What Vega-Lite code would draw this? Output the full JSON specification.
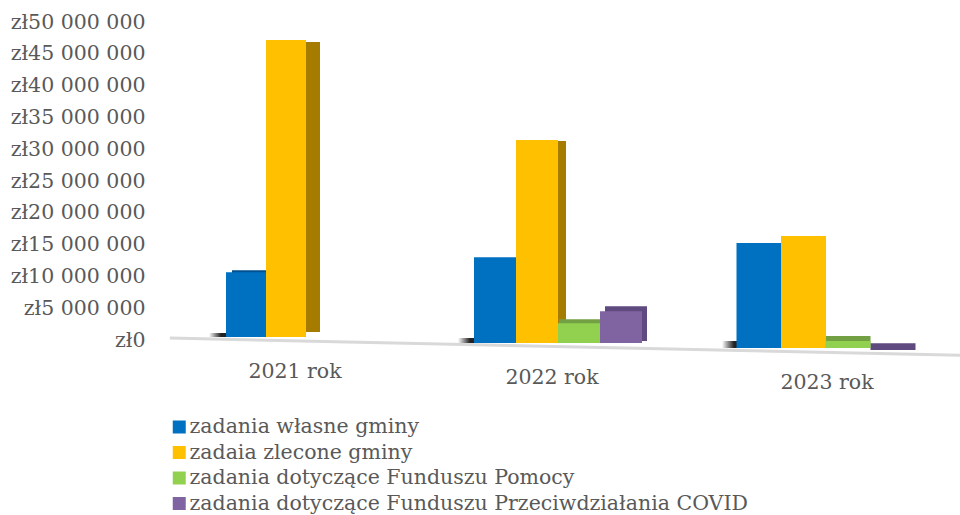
{
"$schema":"https://vega.github.io/schema/vega-lite/v6.json",
"width":960,"height":515,"padding":0,"autosize":{"type":"none"},
"background":"white",
"config":{"view":{"stroke":null},"font":"DejaVu Serif"},
"params":[{"name":"serie","value":["zadania własne gminy","zadaia zlecone gminy","zadania dotyczące Funduszu Pomocy","zadania dotyczące Funduszu Przeciwdziałania COVID"]}],
"datasets":{
"bars":[
{"rok":2021,"seria":"zadania własne gminy","kwota":10200000},
{"rok":2021,"seria":"zadaia zlecone gminy","kwota":46700000},
{"rok":2022,"seria":"zadania własne gminy","kwota":13500000},
{"rok":2022,"seria":"zadaia zlecone gminy","kwota":31900000},
{"rok":2022,"seria":"zadania dotyczące Funduszu Pomocy","kwota":3100000},
{"rok":2022,"seria":"zadania dotyczące Funduszu Przeciwdziałania COVID","kwota":5000000},
{"rok":2023,"seria":"zadania własne gminy","kwota":16500000},
{"rok":2023,"seria":"zadaia zlecone gminy","kwota":17600000},
{"rok":2023,"seria":"zadania dotyczące Funduszu Pomocy","kwota":1100000},
{"rok":2023,"seria":"zadania dotyczące Funduszu Przeciwdziałania COVID","kwota":100000}
],
"floor":[{"rok":2020.48,"kwota":300000},{"rok":2023.52,"kwota":-2400000}],
"lata":[{"rok":2021,"etykieta":"2021 rok","kwota":0},{"rok":2022,"etykieta":"2022 rok","kwota":0},{"rok":2023,"etykieta":"2023 rok","kwota":0}]
},
"data":{"name":"bars"},
"encoding":{
"x":{"field":"rok","type":"quantitative","title":null,
"scale":{"type":"linear","domain":[2020.5,2021,2022,2023,2023.5],"range":[170,295,552,827,960],"nice":false,"zero":false},
"axis":null},
"y":{"field":"kwota","type":"quantitative","title":null,
"scale":{"domain":[0,50000000],"range":[340,22],"nice":false,"zero":false},
"axis":{"values":[0,5000000,10000000,15000000,20000000,25000000,30000000,35000000,40000000,45000000,50000000],"offset":-145,"ticks":false,"domain":false,"grid":false,"labelPadding":0,"labelFontSize":20.5,"labelColor":"#595959","labelFont":"DejaVu Serif",
"labelExpr":"'zł'+replace(format(datum.value,',d'),/,/g,' ')"}},
"y2":{"datum":0}
},
"layer":[
{"data":{"name":"floor"},"mark":{"type":"line","color":"#d9d9d9","strokeWidth":3},"encoding":{"y2":null}},
{"data":{"name":"lata"},"mark":{"type":"text","font":"DejaVu Serif","fontSize":20.5,"color":"#595959","baseline":"middle","align":"center","dy":{"expr":"datum.rok===2021?32:datum.rok===2022?38:43"}},
"encoding":{"y2":null,"text":{"field":"etykieta","type":"nominal"}}},

{"transform":[{"filter":"datum.rok===2021 && datum.seria==='zadania własne gminy'"}],
"mark":{"type":"bar","width":40,"xOffset":-66,"yOffset":-7,"y2Offset":-3,"color":{"gradient":"linear","x1":0,"x2":1,"y1":0,"y2":0,"stops":[{"offset":0,"color":"#ffffff"},{"offset":0.3,"color":"#222222"}]}},
"encoding":{"y":{"datum":0}}},
{"transform":[{"filter":"datum.rok===2022 && datum.seria==='zadania własne gminy'"}],
"mark":{"type":"bar","width":40,"xOffset":-74,"yOffset":-2,"y2Offset":3,"color":{"gradient":"linear","x1":0,"x2":1,"y1":0,"y2":0,"stops":[{"offset":0,"color":"#ffffff"},{"offset":0.3,"color":"#222222"}]}},
"encoding":{"y":{"datum":0}}},
{"transform":[{"filter":"datum.rok===2023 && datum.seria==='zadania własne gminy'"}],
"mark":{"type":"bar","width":40,"xOffset":-85,"yOffset":1,"y2Offset":8,"color":{"gradient":"linear","x1":0,"x2":1,"y1":0,"y2":0,"stops":[{"offset":0,"color":"#ffffff"},{"offset":0.3,"color":"#222222"}]}},
"encoding":{"y":{"datum":0}}},

{"transform":[{"filter":"datum.rok===2021 && datum.seria==='zadania własne gminy'"}],
"mark":{"type":"bar","width":40,"color":"#01508f","xOffset":-43,"yOffset":-5,"y2Offset":-3}},
{"transform":[{"filter":"datum.rok===2021 && datum.seria==='zadaia zlecone gminy'"}],
"mark":{"type":"bar","width":40,"color":"#a67c00","xOffset":5,"yOffset":-1,"y2Offset":-8}},
{"transform":[{"filter":"datum.rok===2021"}],
"mark":{"type":"bar","width":40,"yOffset":-3,"y2Offset":-3,"xOffset":{"expr":"-49+40*indexof(serie,datum.seria)"}},
"encoding":{"color":{"field":"seria","type":"nominal","title":null,
"scale":{"domain":["zadania własne gminy","zadaia zlecone gminy","zadania dotyczące Funduszu Pomocy","zadania dotyczące Funduszu Przeciwdziałania COVID"],"range":["#0070c0","#ffc000","#92d050","#8064a2"]},
"legend":{"orient":"none","legendX":169,"legendY":415,"direction":"vertical","columns":1,"symbolType":"square","symbolSize":169,"symbolStrokeWidth":0,"rowPadding":1.5,"labelFontSize":20.5,"labelColor":"#595959","labelFont":"DejaVu Serif","labelOffset":0,"labelLimit":700,"clipHeight":24}}}},

{"transform":[{"filter":"datum.rok===2022 && datum.seria==='zadaia zlecone gminy'"}],
"mark":{"type":"bar","width":42,"color":"#a67c00","xOffset":-7,"yOffset":4,"y2Offset":0}},
{"transform":[{"filter":"datum.rok===2022 && datum.seria==='zadania dotyczące Funduszu Pomocy'"}],
"mark":{"type":"bar","width":42,"color":"#74a044","xOffset":28,"yOffset":-1,"y2Offset":3}},
{"transform":[{"filter":"datum.rok===2022 && datum.seria==='zadania dotyczące Funduszu Przeciwdziałania COVID'"}],
"mark":{"type":"bar","width":42,"color":"#5f4a80","xOffset":74,"yOffset":-2,"y2Offset":1}},
{"transform":[{"filter":"datum.rok===2022"}],
"mark":{"type":"bar","width":42,"yOffset":3,"y2Offset":3,"xOffset":{"expr":"-57+42*indexof(serie,datum.seria)"}},
"encoding":{"color":{"field":"seria","type":"nominal","title":null}}},

{"transform":[{"filter":"datum.rok===2023 && datum.seria==='zadania dotyczące Funduszu Pomocy'"}],
"mark":{"type":"bar","width":45,"color":"#74a044","xOffset":21,"yOffset":3,"y2Offset":8}},
{"transform":[{"filter":"datum.rok===2023 && datum.seria==='zadania dotyczące Funduszu Przeciwdziałania COVID'"}],
"mark":{"type":"bar","width":45,"color":"#5f4a80","xOffset":66,"yOffset":4,"y2Offset":10}},
{"transform":[{"filter":"datum.rok===2023 && datum.seria!=='zadania dotyczące Funduszu Przeciwdziałania COVID'"}],
"mark":{"type":"bar","width":45,"yOffset":8,"y2Offset":8,"xOffset":{"expr":"-68+44.5*indexof(serie,datum.seria)"}},
"encoding":{"color":{"field":"seria","type":"nominal","title":null}}}
]
}
